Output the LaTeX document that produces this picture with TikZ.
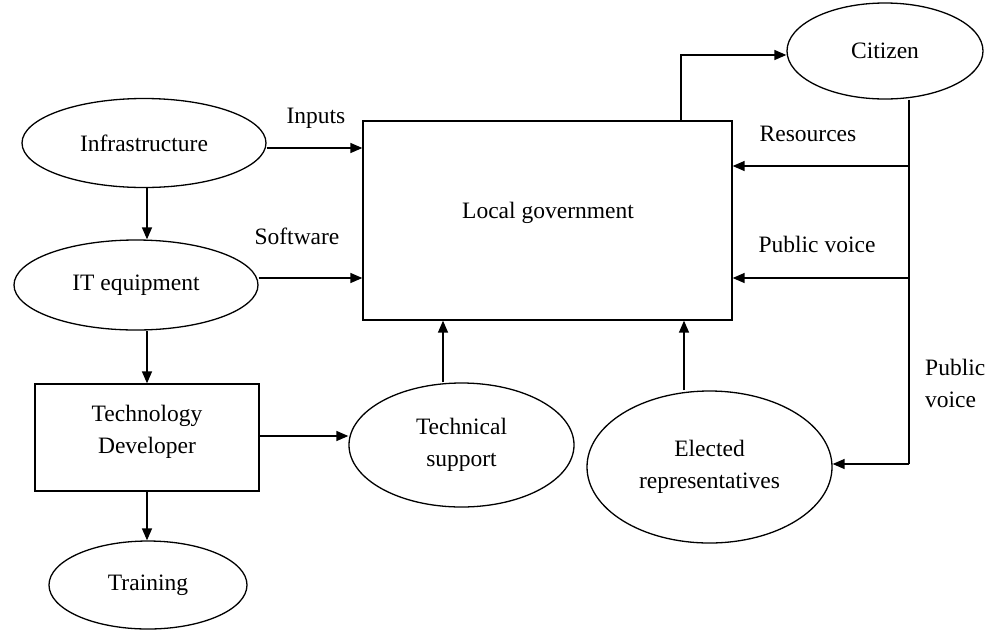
\documentclass[tikz,border=0pt]{standalone}
\usepackage{fontspec}
\setmainfont{Liberation Serif}
\usetikzlibrary{shapes.geometric,arrows.meta}
\begin{document}
\begin{tikzpicture}[x=1pt,y=-1pt,
  every node/.style={font=\fontsize{23.5}{32}\selectfont, inner sep=0pt},
  ell/.style={draw, ellipse, line width=1.3pt},
  boxn/.style={draw, rectangle, line width=1.3pt},
  conn/.style={line width=1.4pt, -{Triangle[length=12pt,width=10pt]}},
  plain/.style={line width=1.4pt},
  lbl/.style={align=left}]
\useasboundingbox (0,0) rectangle (987,630);
\fill[white] (0,0) rectangle (987,630);
% nodes
\node[ell, minimum width=244pt, minimum height=89pt] (infra) at (144,143) {Infrastructure};
\node[ell, minimum width=244pt, minimum height=90pt] (it) at (136,285) {IT equipment};
\node[boxn, minimum width=224pt, minimum height=107pt] (dev) at (147,437.5) {};
\node[align=center] (devt) at (147,432) {Technology\\Developer};
\node[ell, minimum width=198pt, minimum height=88pt] (train) at (148,585) {Training};
\node[ell, minimum width=225pt, minimum height=124pt, align=center] (tech) at (461.5,445) {Technical\\support};
\node[boxn, minimum width=369pt, minimum height=199pt] (lg) at (547.5,220.5) {};
\node at (548,213) {Local government};
\node[ell, minimum width=196pt, minimum height=96pt] (cit) at (885,51) {Citizen};
\node[ell, minimum width=245pt, minimum height=152pt, align=center] (elect) at (709.5,467) {Elected\\representatives};
% labels
\node (linputs) at (316,118) {Inputs};
\node (lsoft) at (297,236) {Software};
\node (lres) at (808,134) {Resources};
\node (lpv) at (817,244) {Public voice};
\node[lbl, anchor=west] (lpv2) at (925,383) {Public\\voice};
% coordinates
\coordinate (c1) at (681,55);
\coordinate (v0) at (909,99);
\coordinate (vr) at (909,166);
\coordinate (vp) at (909,278);
\coordinate (vb) at (909,464);
% connectors
\draw[conn] (infra.south -| 147,0) -- (it.north -| 147,0);
\draw[conn] (it.south -| 147,0) -- (dev.north -| 147,0);
\draw[conn] (dev.south -| 147,0) -- (train.north -| 147,0);
\draw[conn] (dev.east |- 0,436) -- (tech.west |- 0,436);
\draw[conn] (tech.north -| 443,0) -- (lg.south -| 443,0);
\draw[conn] (elect.north -| 684,0) -- (lg.south -| 684,0);
\draw[conn] (infra.east |- 0,148) -- (lg.west |- 0,148);
\draw[conn] (it.east |- 0,278) -- (lg.west |- 0,278);
\draw[conn] (lg.north -| c1) -- (c1) -- (cit.west |- c1);
\draw[plain] (cit.south -| v0) -- (vb);
\draw[conn] (vr) -- (lg.east |- vr);
\draw[conn] (vp) -- (lg.east |- vp);
\draw[conn] (vb) -- (elect.east |- vb);
\end{tikzpicture}
\end{document}
